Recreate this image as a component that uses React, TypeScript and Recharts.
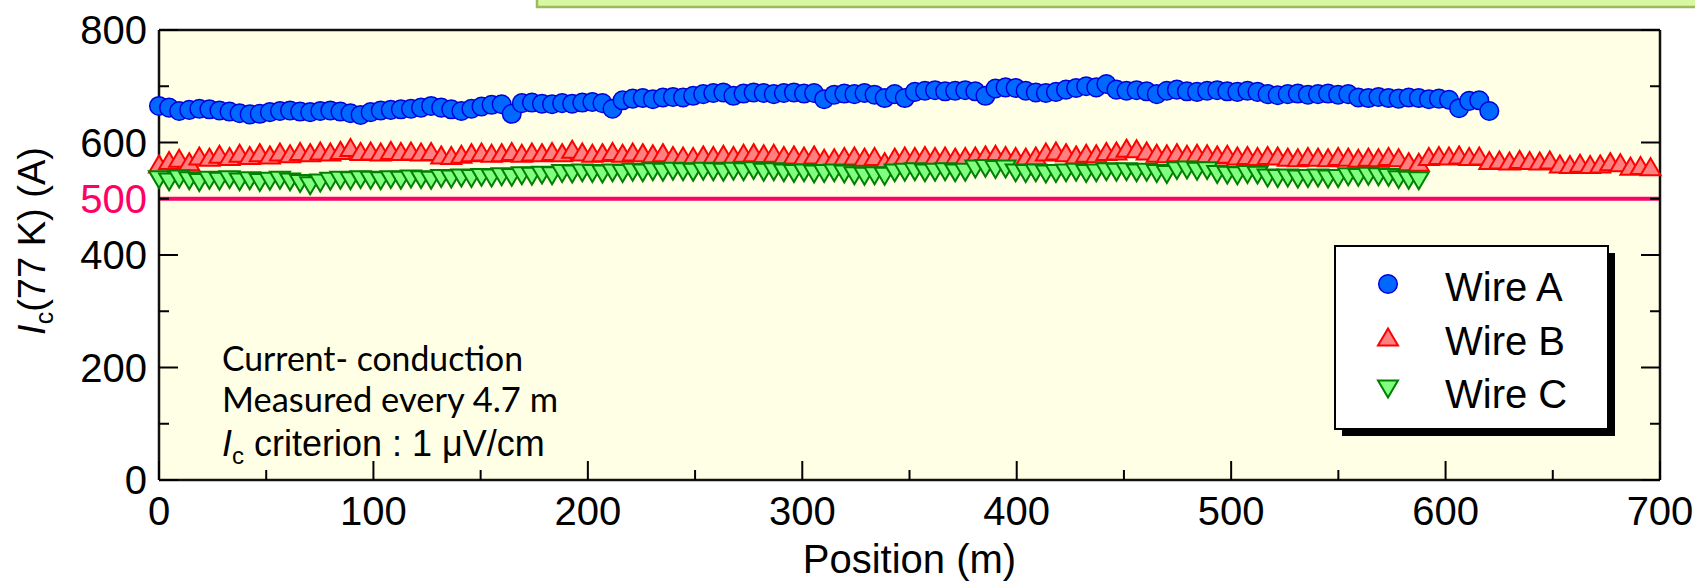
import React from 'react';
import {
  ScatterChart,
  Scatter,
  XAxis,
  YAxis,
  CartesianGrid,
  ReferenceLine,
  Legend,
} from 'recharts';

// Ic(77 K) measured every 4.7 m along each wire (A)
const STEP_M = 4.7;

const WIRE_A = [
  665, 662, 656, 658, 660, 659, 657, 655, 652, 650,
  651, 654, 656, 657, 655, 654, 656, 657, 655, 652,
  649, 654, 657, 658, 659, 660, 662, 665, 662, 659,
  656, 660, 664, 667, 668, 651, 670, 671, 669, 668,
  670, 669, 671, 672, 670, 660, 675, 678, 679, 677,
  680, 681, 680, 683, 686, 688, 689, 683, 687, 689,
  688, 686, 688, 689, 687, 688, 677, 685, 687, 686,
  688, 685, 679, 686, 679, 690, 692, 693, 691, 692,
  693, 691, 683, 696, 698, 697, 692, 689, 688, 690,
  694, 697, 700, 698, 704, 694, 692, 693, 691, 686,
  692, 694, 691, 690, 692, 693, 691, 690, 692, 690,
  686, 684, 686, 687, 685, 686, 687, 685, 686, 680,
  679, 681, 679, 678, 680, 679, 677, 678, 676, 661,
  674, 675, 656,
];

const WIRE_B = [
  562, 568, 572, 566, 576, 574, 579, 575, 581, 577,
  582, 578, 583, 580, 584, 582, 585, 583, 586, 591,
  584, 585, 583, 586, 584, 585, 583, 584, 578, 577,
  579, 582, 583, 581, 582, 584, 581, 583, 582, 584,
  582, 588, 583, 581, 582, 584, 581, 583, 582, 580,
  582, 577, 576, 575, 578, 577, 579, 577, 581, 582,
  580, 581, 577, 578, 576, 578, 572, 573, 575, 576,
  574, 575, 566, 574, 576, 575, 577, 575, 576, 574,
  575, 576, 578, 579, 577, 575, 574, 576, 583, 585,
  582, 578, 581, 580, 584, 585, 590, 589, 585, 581,
  580, 582, 579, 581, 580, 578, 579, 576, 577, 575,
  577, 576, 574, 573, 575, 574, 573, 575, 574, 572,
  574, 573, 575, 573, 566, 565, 575, 577, 576, 578,
  575, 576, 568, 569, 567, 570, 568, 567, 569, 562,
  561, 563, 561, 562, 566, 564, 558, 559, 557,
];

const WIRE_C = [
  534, 530, 535, 532, 529, 533, 531, 534, 530, 532,
  529, 531, 533, 530, 527, 523, 528, 531, 533, 532,
  534, 533, 532, 534, 533, 535, 534, 533, 536, 535,
  537, 536, 538, 537, 539, 538, 541, 540, 542, 541,
  545, 544, 546, 545, 544, 546, 545, 547, 546, 548,
  547, 549, 548, 547, 549, 548, 547, 549, 548, 550,
  547, 548, 546, 545, 546, 544, 545, 546, 544, 541,
  540, 541, 540, 546, 547, 548, 546, 547, 548, 546,
  547, 553, 554, 552, 553, 546, 545, 546, 544, 545,
  546, 547, 545, 546, 548, 547, 548, 546, 547, 545,
  543, 550, 551, 549, 550, 543, 542, 541, 543, 542,
  537, 536, 537, 535, 536, 537, 535, 536, 539, 538,
  540, 539, 538, 534, 533, 532,
];

const X_TICKS = [0, 50, 100, 150, 200, 250, 300, 350, 400, 450, 500, 550, 600, 650, 700];
const Y_TICKS = [0, 100, 200, 300, 400, 500, 600, 700, 800];
const Y_LABELS = [0, 200, 400, 500, 600, 800];
const CRITERION = 500;

const ARIAL = '"Liberation Sans", Arial, sans-serif';
const PINK = '#ff0066';

const toPoints = (vals: number[]) =>
  vals.map((v, i) => ({ pos: Math.round(i * STEP_M * 10) / 10, ic: v }));

// markers
const Dot = ({ cx, cy }: any) => (
  <circle cx={cx} cy={cy} r={9.3} fill="#0068ff" stroke="#0000dd" strokeWidth={1.5} />
);
const UpTri = ({ cx, cy }: any) => (
  <path
    d={`M${cx},${cy - 8.5} L${cx + 10},${cy + 8.5} L${cx - 10},${cy + 8.5} Z`}
    fill="#ff8080"
    stroke="#ff0000"
    strokeWidth={2}
  />
);
const DownTri = ({ cx, cy }: any) => (
  <path
    d={`M${cx - 10},${cy - 8.5} L${cx + 10},${cy - 8.5} L${cx},${cy + 8.5} Z`}
    fill="#80ff80"
    stroke="#008000"
    strokeWidth={2}
  />
);

const MARKERS: Record<string, any> = { 'Wire A': Dot, 'Wire B': UpTri, 'Wire C': DownTri };

// ticks point inward, labels outside
const BottomTick = ({ x, y, payload }: any) => {
  const v = payload.value;
  const major = v % 100 === 0;
  return (
    <g>
      <line x1={x} x2={x} y1={y} y2={y - (major ? 19 : 10)} stroke="#000" strokeWidth={2} />
      {major && (
        <text x={x} y={y + 45} textAnchor="middle" fontSize={40} fontFamily={ARIAL} fill="#000">
          {v}
        </text>
      )}
    </g>
  );
};

const TopTick = ({ x, y, payload }: any) => {
  const major = payload.value % 100 === 0;
  return <line x1={x} x2={x} y1={y} y2={y + (major ? 19 : 10)} stroke="#000" strokeWidth={2} />;
};

const LeftTick = ({ x, y, payload }: any) => {
  const v = payload.value;
  const major = v % 200 === 0;
  return (
    <g>
      <line x1={x} x2={x + (major ? 19 : 10)} y1={y} y2={y} stroke="#000" strokeWidth={2} />
      {Y_LABELS.includes(v) && (
        <text
          x={x - 12}
          y={y + 14}
          textAnchor="end"
          fontSize={40}
          fontFamily={ARIAL}
          fill={v === CRITERION ? PINK : '#000'}
        >
          {v}
        </text>
      )}
    </g>
  );
};

const RightTick = ({ x, y, payload }: any) => {
  const major = payload.value % 200 === 0;
  return <line x1={x} x2={x - (major ? 19 : 10)} y1={y} y2={y} stroke="#000" strokeWidth={2} />;
};

const XTitle = ({ viewBox }: any) => (
  <text
    x={viewBox.x + viewBox.width / 2}
    y={573}
    textAnchor="middle"
    fontSize={40}
    fontFamily={ARIAL}
    fill="#000"
  >
    Position (m)
  </text>
);

const YTitle = ({ viewBox }: any) => {
  const cx = 45;
  const cy = viewBox.y + viewBox.height / 2 - 14;
  return (
    <text
      x={cx}
      y={cy}
      transform={`rotate(-90, ${cx}, ${cy})`}
      textAnchor="middle"
      fontSize={38}
      fontFamily={ARIAL}
      fill="#000"
    >
      <tspan fontStyle="italic">I</tspan>
      <tspan fontSize={25} dy={8}>c</tspan>
      <tspan dy={-8}>(77 K) (A)</tspan>
    </text>
  );
};

const LegendBox = ({ payload }: any) => (
  <svg width={284} height={194} style={{ display: 'block' }}>
    <rect x={8} y={8} width={273} height={183} fill="#000" />
    <rect x={1} y={1} width={273} height={183} fill="#fff" stroke="#000" strokeWidth={2} />
    {(payload || []).map((p: any, i: number) => {
      const Marker = MARKERS[p.value];
      const my = [39, 92, 144][i];
      const by = [56, 110, 163][i];
      return (
        <g key={p.value}>
          {Marker && <Marker cx={54} cy={my} />}
          <text x={111} y={by} fontSize={40} fontFamily={ARIAL} fill="#000">
            {p.value}
          </text>
        </g>
      );
    })}
  </svg>
);

const AXIS_LINE = { stroke: '#111', strokeWidth: 2.5 };

const App: React.FC = () => {
  const dataA = toPoints(WIRE_A);
  const dataB = toPoints(WIRE_B);
  const dataC = toPoints(WIRE_C);

  return (
    <div style={{ position: 'relative', width: 1695, height: 581, background: '#fff' }}>
      <style>{'body{margin:0}'}</style>
      <ScatterChart width={1695} height={581} margin={{ top: 20, right: 25, bottom: 41, left: 99 }}>
        <CartesianGrid horizontal={false} vertical={false} fill="#ffffe5" />
        <XAxis
          xAxisId={0}
          type="number"
          dataKey="pos"
          domain={[0, 700]}
          ticks={X_TICKS}
          interval={0}
          height={60}
          axisLine={AXIS_LINE}
          tickLine={false}
          tickSize={0}
          tickMargin={0}
          tick={<BottomTick />}
          label={<XTitle />}
        />
        <XAxis
          xAxisId="top"
          orientation="top"
          type="number"
          domain={[0, 700]}
          allowDataOverflow
          ticks={X_TICKS}
          interval={0}
          height={10}
          axisLine={AXIS_LINE}
          tickLine={false}
          tickSize={0}
          tickMargin={0}
          tick={<TopTick />}
        />
        <YAxis
          yAxisId={0}
          type="number"
          dataKey="ic"
          domain={[0, 800]}
          ticks={Y_TICKS}
          interval={0}
          width={60}
          axisLine={AXIS_LINE}
          tickLine={false}
          tickSize={0}
          tickMargin={0}
          tick={<LeftTick />}
          label={<YTitle />}
        />
        <YAxis
          yAxisId="right"
          orientation="right"
          type="number"
          domain={[0, 800]}
          allowDataOverflow
          ticks={Y_TICKS}
          interval={0}
          width={10}
          axisLine={AXIS_LINE}
          tickLine={false}
          tickSize={0}
          tickMargin={0}
          tick={<RightTick />}
        />
        <ReferenceLine y={CRITERION} stroke={PINK} strokeWidth={4} />
        <Scatter name="Wire A" data={dataA} shape={<Dot />} isAnimationActive={false} />
        <Scatter name="Wire B" data={dataB} shape={<UpTri />} isAnimationActive={false} />
        <Scatter name="Wire C" data={dataC} shape={<DownTri />} isAnimationActive={false} />
        <Legend
          layout="horizontal"
          verticalAlign="middle"
          align="center"
          wrapperStyle={{ left: 1334, top: 245, width: 284, height: 194 }}
          content={<LegendBox />}
        />
      </ScatterChart>

      {/* annotations drawn over the chart */}
      <svg
        width={1695}
        height={581}
        style={{ position: 'absolute', left: 0, top: 0, pointerEvents: 'none' }}
      >
        <rect x={537} y={-10} width={1170} height={17} fill="#d8f7a4" stroke="#9bbb59" strokeWidth={2.5} />
        <text x={222} y={371} fontSize={35} fontFamily="Lato, 'Open Sans', sans-serif" fill="#000"
          textLength={301} lengthAdjust="spacingAndGlyphs">
          Current- conduction
        </text>
        <text x={222} y={412} fontSize={35} fontFamily="Lato, 'Open Sans', sans-serif" fill="#000"
          textLength={336} lengthAdjust="spacingAndGlyphs">
          Measured every 4.7 m
        </text>
        <text x={222} y={456} fontSize={36} fontFamily={ARIAL} fill="#000">
          <tspan fontStyle="italic">I</tspan>
          <tspan fontSize={24} dy={8}>c</tspan>
          <tspan dy={-8}> criterion : 1 μV/cm</tspan>
        </text>
      </svg>
    </div>
  );
};

export default App;
